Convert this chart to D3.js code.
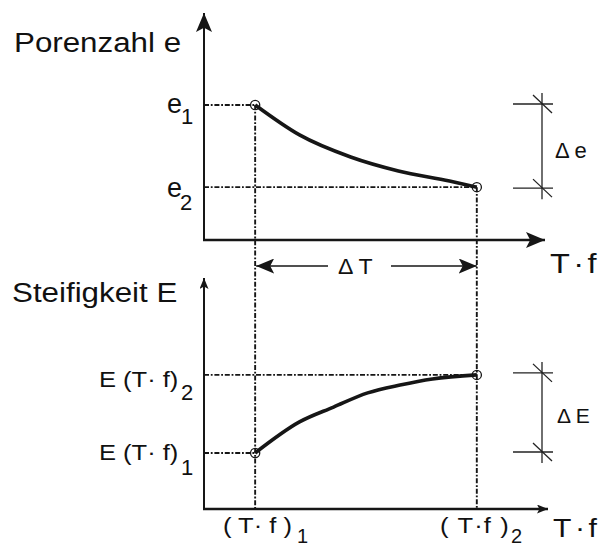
<!DOCTYPE html>
<html>
<head>
<meta charset="utf-8">
<script src="https://cdn.jsdelivr.net/npm/d3@7"></script>
<style>
  html, body { margin: 0; padding: 0; background: #fff; }
  svg { display: block; }
  text { font-family: "Liberation Sans", Arial, Helvetica, sans-serif; fill: #111; }
</style>
</head>
<body>
<svg id="chart" width="601" height="548"></svg>
<script>
// Porenzahl e über T·f (abnehmend)
const tfPore = [15, 28, 43, 57, 72, 80];
const porenzahl = [0.6, 0.467, 0.369, 0.307, 0.262, 0.235];

// Steifigkeit E über T·f (zunehmend)
const tfStiff = [15, 28, 38, 48, 57.5, 67, 80];
const steifigkeit = [0.249, 0.387, 0.453, 0.516, 0.551, 0.578, 0.596];

// Achsen- und Markenbeschriftungen
const axisTitles = ["Porenzahl e", "Steifigkeit E"];
const xAxisLabel = "T\u00B7f";
const tfLabels = ["( T\u00B7 f )", "( T\u00B7f )"];
const tfSubs = ["1", "2"];
const eLabels = ["e", "e"];
const eSubs = ["1", "2"];
const stiffLabels = ["E (T\u00B7 f)", "E (T\u00B7 f)"];
const stiffSubs = ["1", "2"];
const deltaLabels = ["\u0394 e", "\u0394 E", "\u0394 T"];

const svg = d3.select("#chart");
const ink = "#161616";
const SX = 1.16; // horizontally widened lettering

// Scales
const x = d3.scaleLinear().domain([0, 100]).range([204, 545]);
const yTop = d3.scaleLinear().domain([0, 1]).range([240, 15]);
const yBot = d3.scaleLinear().domain([0, 1]).range([509, 284]);

// Arrowheads
const defs = svg.append("defs");
function marker(id, len, half) {
  defs.append("marker")
    .attr("id", id)
    .attr("viewBox", `0 ${-half} ${len} ${2 * half}`)
    .attr("refX", len).attr("refY", 0)
    .attr("markerUnits", "userSpaceOnUse")
    .attr("markerWidth", len).attr("markerHeight", 2 * half)
    .attr("orient", "auto-start-reverse")
    .append("path")
    .attr("d", `M0,${-half} L${len},0 L0,${half} L${len * 0.22},0 Z`)
    .attr("fill", ink);
}
marker("arrBig", 19, 8);
marker("arrMid", 18, 7.5);
marker("arrSmall", 11, 4.5);

function label(txt, px, py, size, opts = {}) {
  return svg.append("text")
    .attr("transform", `translate(${px},${py}) scale(${opts.sx ?? SX},1)`)
    .attr("font-size", size)
    .attr("text-anchor", opts.anchor || "start")
    .attr("letter-spacing", opts.ls || 0)
    .text(txt);
}

const guide = "5,1.8,1.8,1.8";
function guideLine(x1, y1, x2, y2) {
  svg.append("line")
    .attr("x1", x1).attr("y1", y1).attr("x2", x2).attr("y2", y2)
    .attr("stroke", ink).attr("stroke-width", 1.9)
    .attr("stroke-dasharray", guide);
}

const tf1 = tfPore[0], tf2 = tfPore[tfPore.length - 1];
const e1 = porenzahl[0], e2 = porenzahl[porenzahl.length - 1];
const E1 = steifigkeit[0], E2 = steifigkeit[steifigkeit.length - 1];

// Guide lines
guideLine(x(0), yTop(e1), x(tf1), yTop(e1));
guideLine(x(0), yTop(e2), x(tf2), yTop(e2));
guideLine(x(tf1), yTop(e1), x(tf1), yBot(0));
guideLine(x(tf2), yTop(e2), x(tf2), yBot(0));
guideLine(x(0), yBot(E1), x(tf1), yBot(E1));
guideLine(x(0), yBot(E2), x(tf2), yBot(E2));

// Axes
svg.append("line").attr("x1", x(0)).attr("y1", yTop(0)).attr("x2", x(0)).attr("y2", 13)
  .attr("stroke", ink).attr("stroke-width", 2).attr("marker-end", "url(#arrBig)");
svg.append("line").attr("x1", x(0) - 1).attr("y1", yTop(0)).attr("x2", 545).attr("y2", yTop(0))
  .attr("stroke", ink).attr("stroke-width", 2.6).attr("marker-end", "url(#arrBig)");
svg.append("line").attr("x1", x(0)).attr("y1", yBot(0)).attr("x2", x(0)).attr("y2", 278)
  .attr("stroke", ink).attr("stroke-width", 2).attr("marker-end", "url(#arrSmall)");
svg.append("line").attr("x1", x(0) - 1).attr("y1", yBot(0)).attr("x2", 548).attr("y2", yBot(0))
  .attr("stroke", ink).attr("stroke-width", 2.4).attr("marker-end", "url(#arrSmall)");

// Curves
const topLine = d3.line().x((d, i) => x(tfPore[i])).y(d => yTop(d)).curve(d3.curveMonotoneX);
const botLine = d3.line().x((d, i) => x(tfStiff[i])).y(d => yBot(d)).curve(d3.curveMonotoneX);
svg.append("path").attr("d", topLine(porenzahl)).attr("fill", "none")
  .attr("stroke", ink).attr("stroke-width", 3.6);
svg.append("path").attr("d", botLine(steifigkeit)).attr("fill", "none")
  .attr("stroke", ink).attr("stroke-width", 3.6);

// End point circles
[[x(tf1), yTop(e1)], [x(tf2), yTop(e2)], [x(tf1), yBot(E1)], [x(tf2), yBot(E2)]]
  .forEach(([cx, cy]) => svg.append("circle").attr("cx", cx).attr("cy", cy).attr("r", 4.6)
    .attr("fill", "none").attr("stroke", ink).attr("stroke-width", 1.3));

// Dimension marks Δe / ΔE
function dimension(yA, yB) {
  const dx = 542;
  const g = svg.append("g").attr("stroke", "#222").attr("stroke-width", 1.3);
  g.append("line").attr("x1", dx).attr("x2", dx).attr("y1", yA - 11).attr("y2", yB + 11);
  [yA, yB].forEach(yy => {
    g.append("line").attr("x1", 513).attr("x2", 553).attr("y1", yy).attr("y2", yy);
    g.append("line").attr("x1", dx - 9).attr("x2", dx + 10).attr("y1", yy - 9).attr("y2", yy + 9);
  });
}
dimension(yTop(e1) - 1, yTop(e2) + 1);
dimension(yBot(E2) - 2, yBot(E1) - 1);

// ΔT arrow between the two guide verticals
const arrowY = 266;
svg.append("line").attr("x1", 328).attr("y1", arrowY).attr("x2", x(tf1) + 1).attr("y2", arrowY)
  .attr("stroke", ink).attr("stroke-width", 1.6).attr("marker-end", "url(#arrMid)");
svg.append("line").attr("x1", 391).attr("y1", arrowY).attr("x2", x(tf2)).attr("y2", arrowY)
  .attr("stroke", ink).attr("stroke-width", 1.6).attr("marker-end", "url(#arrMid)");

// Texts
label(axisTitles[0], 14, 52, 27);
label(axisTitles[1], 12, 302, 27);

label(eLabels[0], 167, yTop(e1) + 8, 27, { sx: 1 });
label(eSubs[0], 181, yTop(e1) + 19, 22, { sx: 1 });
label(eLabels[1], 167, yTop(e2) + 10, 27, { sx: 1 });
label(eSubs[1], 180, yTop(e2) + 23, 22, { sx: 1 });

label(stiffLabels[1], 99, yBot(E2) + 12, 22);
label(stiffSubs[1], 181, yBot(E2) + 25, 22, { sx: 1 });
label(stiffLabels[0], 99, yBot(E1) + 7, 22);
label(stiffSubs[0], 181, yBot(E1) + 22, 22, { sx: 1 });

label(deltaLabels[0], 555, 158, 22, { sx: 1 });
label(deltaLabels[1], 557, 423, 21, { sx: 1 });
label(deltaLabels[2], 338, 274, 22, { sx: 1.05 });

label(xAxisLabel, 550, 273, 28, { ls: 3 });
label(xAxisLabel, 553, 537, 26, { ls: 3 });

label(tfLabels[0], 223, 533, 22);
label(tfSubs[0], 297, 543, 20, { sx: 1 });
label(tfLabels[1], 440, 533, 22, { ls: 1 });
label(tfSubs[1], 511, 543, 20, { sx: 1 });
</script>
</body>
</html>
